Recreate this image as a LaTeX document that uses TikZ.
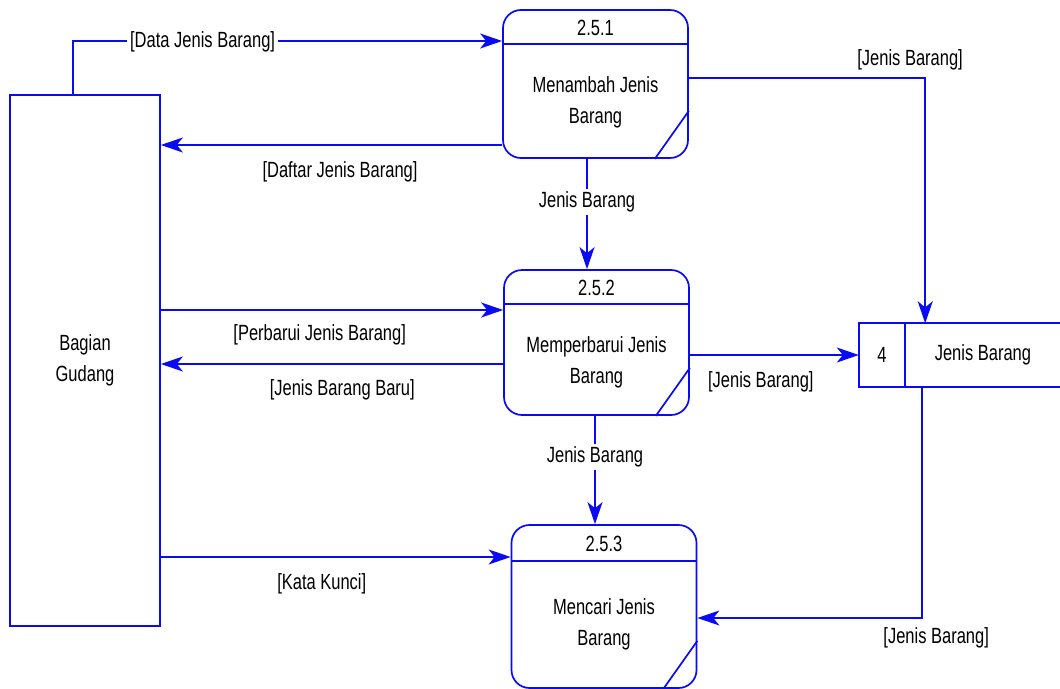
\documentclass[tikz,border=0pt]{standalone}
\usepackage{fontspec}
\setmainfont{Liberation Sans}[FakeStretch=0.75]
\usetikzlibrary{arrows.meta,positioning}
\definecolor{dfdblue}{RGB}{10,10,245}

\tikzset{
  dfdline/.style={draw=dfdblue, line width=1.7pt},
  flow/.style={dfdline, -{Stealth[length=22pt,width=15pt,inset=6pt]}},
  proc/.style={dfdline, rounded corners=18pt, minimum width=185pt, inner sep=0pt},
  ent/.style={dfdline, minimum width=150pt, minimum height=531pt, inner sep=0pt, align=center},
  txt/.style={align=center, inner sep=1pt},
  lbl/.style={inner sep=1pt},
  lblcut/.style={fill=white, inner sep=3pt}
}

\begin{document}
\begin{tikzpicture}[x=1pt, y=-1pt, font={\fontsize{22}{31}\selectfont}]
    \useasboundingbox (0,0) rectangle (1060,688);

    % Entidade externa
    \node[ent] (gdg) at (85,360.5) {Bagian\\Gudang};

    % Processos
    \node[proc, minimum height=148pt] (p1) at (595.5,84) {};
    \node[proc, minimum height=145pt] (p2) at (596.5,342.5) {};
    \node[proc, minimum height=163pt] (p3) at (604,606.5) {};

    \node[lbl] (p1n) at ([yshift=-18.5pt]p1.north) {2.5.1};
    \node[lbl] (p2n) at ([yshift=-19pt]p2.north) {2.5.2};
    \node[lbl] (p3n) at ([yshift=-20pt]p3.north) {2.5.3};

    \node[txt] (p1t) at ([yshift=-18.5pt]p1.center) {Menambah Jenis\\Barang};
    \node[txt] (p2t) at ([yshift=-19.5pt]p2.center) {Memperbarui Jenis\\Barang};
    \node[txt] (p3t) at ([yshift=-18pt]p3.center) {Mencari Jenis\\Barang};

    % Divisoes e cantos
    \foreach \p/\d in {p1/35, p2/35, p3/37} {
        \draw[dfdline] ([yshift=-\d pt]\p.north west) -- ([yshift=-\d pt]\p.north east);
        \draw[dfdline] ([xshift=-34pt]\p.south east) -- ([yshift=48pt]\p.south east);
    }

    % Deposito de dados
    \node[minimum width=46pt, minimum height=63pt, inner sep=0pt] (st) at (882,355) {4};
    \node[right=0pt of st, minimum width=155pt, minimum height=63pt, inner sep=0pt] (stn) {Jenis Barang};
    \draw[dfdline] (stn.north east) -- (st.north west) -- (st.south west) -- (stn.south east);
    \draw[dfdline] (st.north east) -- (st.south east);

    % Fluxos
    \draw[flow] ([xshift=-12pt]gdg.north) |- ([yshift=43pt]p1.west)
        node[lblcut, pos=0.651, yshift=-1pt] {[Data Jenis Barang]};
    \draw[flow] ([yshift=-61pt]p1.west) -- ([yshift=215.5pt]gdg.east)
        node[lbl, pos=0.475, yshift=-27pt] {[Daftar Jenis Barang]};
    \draw[flow] ([yshift=6pt]p1.east) -| ([xshift=20pt]stn.north west)
        node[lbl, pos=0.468, yshift=18pt] {[Jenis Barang]};
    \draw[flow] ([xshift=-8.5pt]p1.south) -- ([xshift=-9.5pt]p2.north)
        node[lblcut, pos=0.375, yshift=-2pt] {Jenis Barang};
    \draw[flow] ([yshift=50.5pt]gdg.east) -- ([yshift=32.5pt]p2.west)
        node[lbl, pos=0.464, yshift=-25pt] {[Perbarui Jenis Barang]};
    \draw[flow] ([yshift=-21.5pt]p2.west) -- ([yshift=-3.5pt]gdg.east)
        node[lbl, pos=0.47, yshift=-26pt] {[Jenis Barang Baru]};
    \draw[flow] ([yshift=-12.5pt]p2.east) -- (st.west)
        node[lbl, pos=0.42, yshift=-27pt] {[Jenis Barang]};
    \draw[flow] ([xshift=-1.5pt]p2.south) -- ([xshift=-9pt]p3.north)
        node[lblcut, pos=0.36, yshift=-2pt] {Jenis Barang};
    \draw[flow] ([yshift=-196.5pt]gdg.east) -- ([yshift=49.5pt]p3.west)
        node[lbl, pos=0.46, yshift=-27pt] {[Kata Kunci]};
    \draw[flow] ([xshift=17pt]stn.south west) |- ([yshift=-11.5pt]p3.east)
        node[lbl, pos=0.5, xshift=14pt, yshift=-20pt] {[Jenis Barang]};
\end{tikzpicture}
\end{document}
